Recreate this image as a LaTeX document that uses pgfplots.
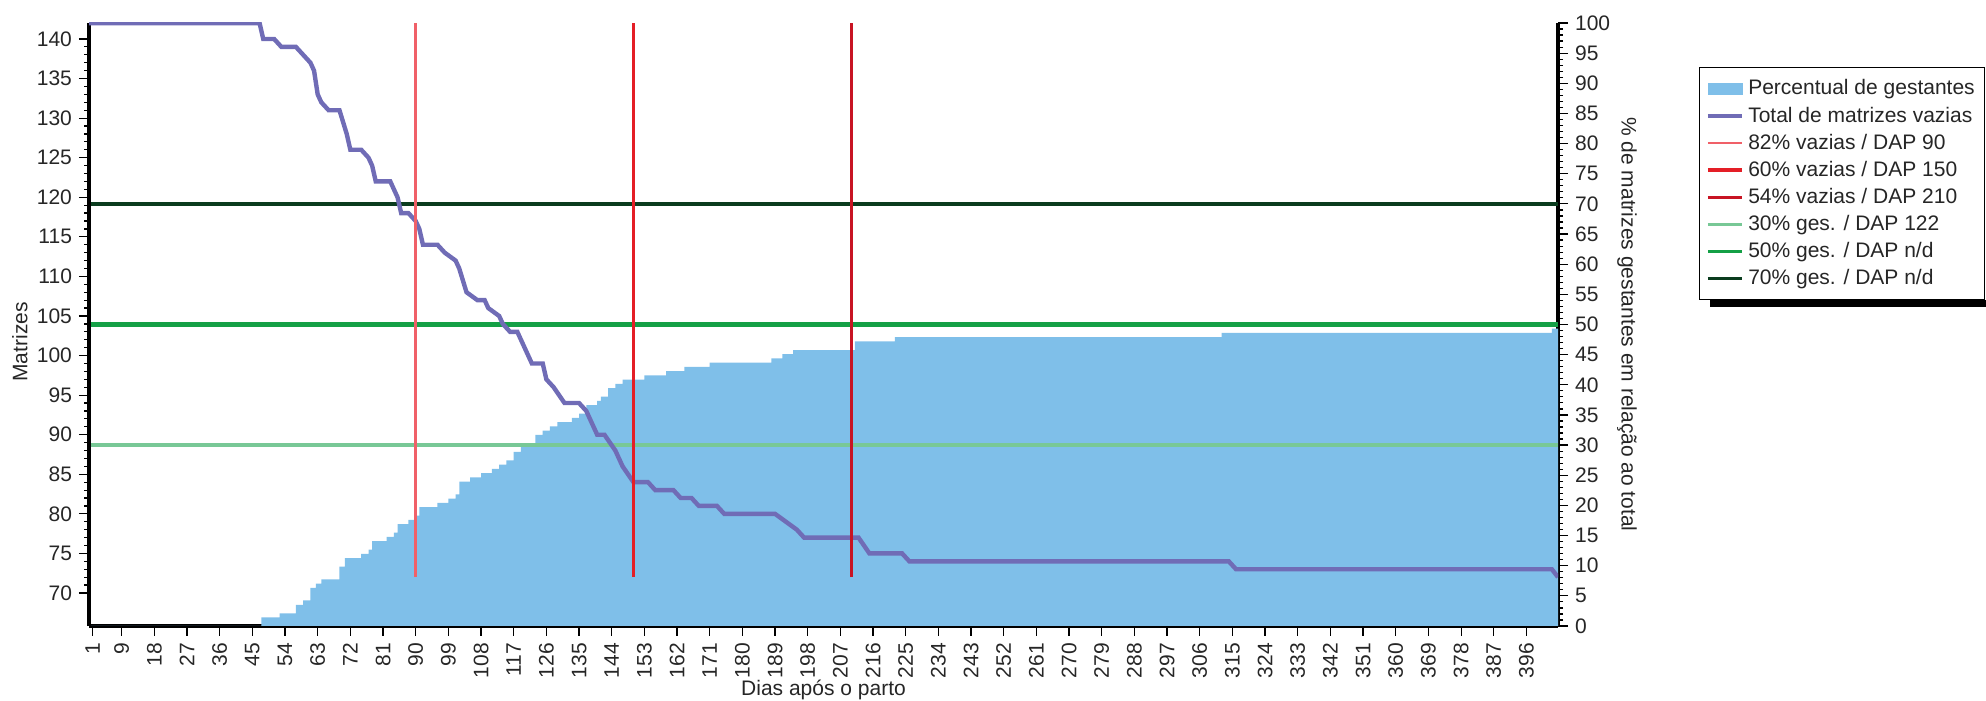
\documentclass[border=0pt]{standalone}
\usepackage{fontspec}
\setmainfont{Liberation Sans}
\usepackage{pgfplots}
\pgfplotsset{compat=1.18}

\definecolor{areablue}{RGB}{127,191,233}
\definecolor{vazpurple}{RGB}{112,108,182}
\definecolor{redA}{RGB}{240,96,104}
\definecolor{redB}{RGB}{228,30,38}
\definecolor{redC}{RGB}{200,20,35}
\definecolor{greenA}{RGB}{120,200,150}
\definecolor{greenB}{RGB}{20,160,70}
\definecolor{greenC}{RGB}{10,60,30}

\pgfplotsset{myax/.style={
  scale only axis, width=734.5pt, height=301.5pt,
  at={(44.5pt,37.5pt)}, anchor=south west,
  xmin=0, xmax=404.7,
  /pgf/number format/assume math mode=true,
  tick align=outside,
  axis line style={-, line width=1.6pt, black},
  major tick length=5pt, minor tick length=2.5pt,
  every tick/.style={black, line width=0.6pt},
  ticklabel style={font=\fontsize{10.5}{12}\selectfont, text=black!85},
  label style={font=\fontsize{10.5}{12}\selectfont, text=black!85},
}}

\begin{document}
\begin{tikzpicture}[font=\fontsize{10.5}{12}\selectfont]
\path[use as bounding box] (0,0) rectangle (993pt,350.5pt);

% Right axis: percentage of pregnant sows
\begin{axis}[myax,
  axis x line*=bottom, axis y line*=right,
  ymin=0, ymax=100, ytick={0,5,...,100}, minor y tick num=4,
  xtick={1,9,18,27,36,45,54,63,72,81,90,99,108,117,126,135,144,153,162,171,180,189,198,207,216,225,234,243,252,261,270,279,288,297,306,315,324,333,342,351,360,369,378,387,396},
  minor x tick num=3,
  xticklabel style={rotate=90, anchor=east},
  xlabel={Dias após o parto},
  xlabel style={at={(axis description cs:0.5,-0.106)}, anchor=center},
  ylabel={\% de matrizes gestantes em relação ao total},
  ylabel style={rotate=180, at={(axis description cs:1.047,0.5)}, anchor=center},
]
\addplot[fill=areablue, draw=none, const plot mark left] table {
x y
0 0
47.5 1.41
52.5 2.11
57 3.52
59 4.23
61 6.34
62.5 7.04
64 7.75
69 9.86
70.5 11.27
75 11.97
77 12.68
78 14.08
82 14.79
84 15.49
85 16.90
88 17.61
90 18.31
91 19.72
96 20.42
99 21.13
101 21.83
102 23.94
105 24.65
108 25.35
111 26.06
113 26.76
115 27.46
117 28.87
119 30.28
123 31.69
125 32.39
127 33.10
129 33.80
133 34.51
135 35.21
137 36.62
140 37.32
141 38.03
143 39.44
145 40.14
147 40.85
153 41.55
159 42.25
164 42.96
171 43.66
188 44.37
191 45.07
194 45.77
211 47.18
222 47.89
312 48.59
403 49.30
404.7 49.30
} \closedcycle;
\addplot[greenA, line width=2.4pt] coordinates {(0,30) (404.7,30)};
\addplot[greenB, line width=2.4pt] coordinates {(0,50) (404.7,50)};
\addplot[greenC, line width=2pt] coordinates {(0,70) (404.7,70)};
\end{axis}

% Left axis: number of empty sows
\begin{axis}[myax,
  axis x line=none, axis y line*=left,
  ymin=65.83, ymax=142.02, ytick={70,75,...,140}, minor y tick num=4,
  ylabel={Matrizes},
  ylabel style={at={(axis description cs:-0.047,0.471)}, anchor=center},
  legend style={at={(axis description cs:1.096,0.927)}, anchor=north west,
    draw=black, line width=0.7pt, fill=white,
    font=\fontsize{10.5}{12}\selectfont, text=black!85,
    cells={anchor=west}, row sep=0.45pt, inner xsep=3pt, inner ysep=4pt},
]
\addlegendimage{area legend, fill=areablue, draw=areablue, line width=0.4pt}
\addlegendentry{Percentual de gestantes}
\addplot[vazpurple, line width=2.2pt] coordinates {
(0,142) (47,142) (48,140) (51,140) (53,139) (57,139) (59,138) (61,137) (62,136) (63,133) (64,132) (66,131) (69,131) (71,128) (72,126) (75,126) (77,125) (78,124) (79,122) (83,122) (85,120) (86,118) (88,118) (90,117) (91,116) (92,114) (96,114) (98,113) (101,112) (102,111) (104,108) (107,107) (109,107) (110,106) (113,105) (114,104) (116,103) (118,103) (120,101) (122,99) (125,99) (126,97) (128,96) (131,94) (135,94) (137,93) (138,92) (140,90) (142,90) (145,88) (147,86) (150,84) (154,84) (156,83) (161,83) (163,82) (166,82) (168,81) (173,81) (175,80) (189,80) (192,79) (195,78) (197,77) (212,77) (215,75) (224,75) (226,74) (314,74) (316,73) (403,73) (404.7,72)
};
\addlegendentry{Total de matrizes vazias}
\addplot[redA, line width=1.4pt] coordinates {(90,72) (90,142)};
\addlegendentry{82\% vazias / DAP 90}
\addplot[redB, line width=1.8pt] coordinates {(150,72) (150,142)};
\addlegendentry{60\% vazias / DAP 150}
\addplot[redC, line width=1.6pt] coordinates {(210,72) (210,142)};
\addlegendentry{54\% vazias / DAP 210}
\addlegendimage{greenA, line width=1.6pt}
\addlegendentry{30\% ges. / DAP 122}
\addlegendimage{greenB, line width=1.6pt}
\addlegendentry{50\% ges. / DAP n/d}
\addlegendimage{greenC, line width=1.6pt}
\addlegendentry{70\% ges. / DAP n/d}
\end{axis}
% legend drop shadow
\fill[black] (855pt,196.8pt) rectangle (993pt,200.6pt);
\end{tikzpicture}
\end{document}
